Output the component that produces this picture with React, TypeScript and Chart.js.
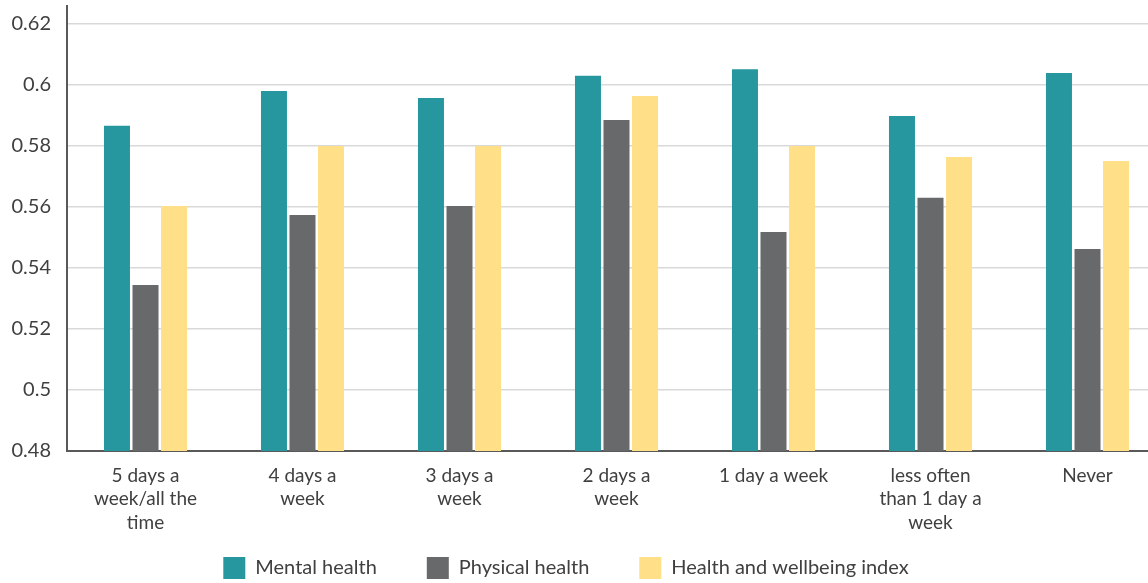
import React, { useEffect, useRef } from "react";
import { Chart, registerables } from "chart.js";

Chart.register(...registerables);

const categories: string[][] = [
  ["5 days a", "week/all the", "time"],
  ["4 days a", "week"],
  ["3 days a", "week"],
  ["2 days a", "week"],
  ["1 day a week"],
  ["less often", "than 1 day a", "week"],
  ["Never"],
];

const mentalHealth = [0.5866, 0.598, 0.5957, 0.603, 0.6052, 0.5898, 0.6039];
const physicalHealth = [0.5344, 0.5574, 0.5603, 0.5885, 0.5518, 0.563, 0.5462];
const wellbeingIndex = [0.5603, 0.58, 0.58, 0.5964, 0.58, 0.5764, 0.5751];

const seriesNames = ["Mental health", "Physical health", "Health and wellbeing index"];
const seriesColors = ["#26979F", "#68696B", "#FFDF88"];

const yMin = 0.48;
const yMax = 0.6259;
const yStep = 0.02;

const FONT = "Lato, 'Open Sans', sans-serif";
const TEXT = "#404040";

const legendShift = {
  id: "legendShift",
  afterLayout(chart: any) {
    const l = chart.legend;
    if (l) {
      l.top -= 29;
      l.bottom -= 29;
    }
  },
};

export default function App() {
  const ref = useRef<HTMLCanvasElement | null>(null);

  useEffect(() => {
    if (!ref.current) return;
    const chart = new Chart(ref.current, {
      type: "bar",
      data: {
        labels: categories,
        datasets: [mentalHealth, physicalHealth, wellbeingIndex].map((d, i) => ({
          label: seriesNames[i],
          data: d,
          backgroundColor: seriesColors[i],
          borderWidth: 0,
          categoryPercentage: 0.545,
          barPercentage: 0.912,
        })),
      },
      plugins: [legendShift],
      options: {
        responsive: false,
        animation: false,
        layout: { padding: { left: 0, right: 2, top: 6, bottom: 0 } },
        plugins: {
          legend: {
            position: "bottom",
            labels: {
              boxWidth: 22,
              boxHeight: 22,
              padding: 50,
              color: TEXT,
              font: { family: FONT, size: 20 },
            },
          },
          tooltip: { enabled: false },
        },
        scales: {
          x: {
            grid: { display: false, drawTicks: false },
            border: { display: true, color: "#595959", width: 2 },
            ticks: {
              color: TEXT,
              padding: 13,
              maxRotation: 0,
              autoSkip: false,
              font: { family: FONT, size: 19, lineHeight: 1.24 },
            },
            afterFit: (s: any) => {
              s.height = 85;
            },
          },
          y: {
            min: yMin,
            max: yMax,
            grid: { color: "#d9d9d9", lineWidth: 1.5, drawTicks: false },
            border: { display: true, color: "#595959", width: 2 },
            ticks: {
              stepSize: yStep,
              includeBounds: false,
              color: TEXT,
              padding: 16,
              font: { family: FONT, size: 20 },
              callback: (v: any) => String(Number(Number(v).toFixed(2))),
            },
            afterFit: (s: any) => {
              s.width = 101;
              s.paddingTop = 0;
              s.paddingBottom = 0;
            },
          },
        },
      },
    });
    return () => chart.destroy();
  }, []);

  return (
    <div
      style={{
        position: "absolute",
        left: 0,
        top: 0,
        width: 1148,
        height: 583,
        overflow: "hidden",
        background: "#fff",
      }}
    >
      <div style={{ marginLeft: -34, width: 1202, height: 618 }}>
        <canvas ref={ref} width={1202} height={618} style={{ display: "block" }} />
      </div>
    </div>
  );
}
